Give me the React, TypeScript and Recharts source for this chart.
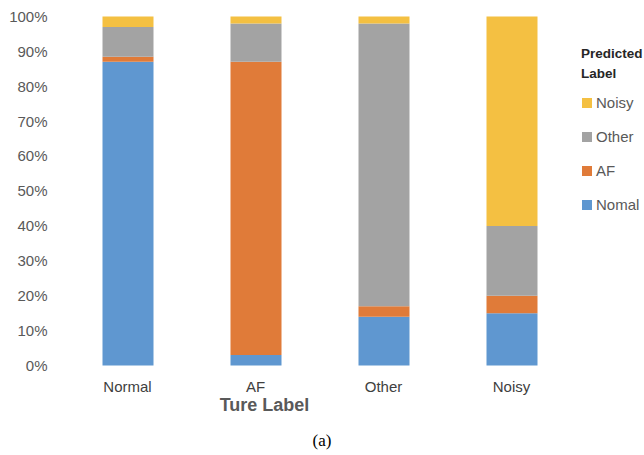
import React from 'react';
import { Bar, BarChart, XAxis, YAxis } from 'recharts';

// true label categories and predicted-label shares (%)
const categories = ['Normal', 'AF', 'Other', 'Noisy'];
const nomal = [87, 3, 14, 15];
const af = [1.5, 84, 3, 5];
const other = [8.5, 11, 81, 20];
const noisy = [3, 2, 2, 60];
const yTicks = [0, 10, 20, 30, 40, 50, 60, 70, 80, 90, 100];

const series = [
  { key: 'nomal', name: 'Nomal', color: '#5f97d0' },
  { key: 'af', name: 'AF', color: '#e07b39' },
  { key: 'other', name: 'Other', color: '#a3a3a3' },
  { key: 'noisy', name: 'Noisy', color: '#f4c042' },
];

const data = categories.map((c, i) => ({
  name: c,
  nomal: nomal[i],
  af: af[i],
  other: other[i],
  noisy: noisy[i],
}));

const font = '"Liberation Sans", Arial, sans-serif';

export default function App() {
  return (
    <div style={{ position: 'absolute', left: 0, top: 0, width: 644, height: 455, background: '#fff', fontFamily: font }}>
      <BarChart
        width={644}
        height={455}
        data={data}
        margin={{ top: 16.5, right: 68.5, bottom: 39.5, left: 0 }}
      >
        <XAxis
          dataKey="name"
          axisLine={false}
          tickLine={false}
          tickMargin={10}
          height={50}
          tick={{ fontSize: 15, fill: '#404040', fontFamily: font }}
          label={{
            value: 'Ture Label',
            position: 'insideBottom',
            dx: -55,
            style: { fontSize: 18, fontWeight: 'bold', fill: '#595959', fontFamily: font },
          }}
        />
        <YAxis
          domain={[0, 100]}
          ticks={yTicks}
          axisLine={false}
          tickLine={false}
          tickMargin={10}
          width={63.5}
          tickFormatter={(v) => `${v}%`}
          tick={{ fontSize: 15, fill: '#595959', fontFamily: font }}
        />
        {series.map((s) => (
          <Bar key={s.key} dataKey={s.key} name={s.name} stackId="a" fill={s.color} barSize={51} isAnimationActive={false} />
        ))}
      </BarChart>

      <div style={{ position: 'absolute', left: 581, top: 44, color: '#262626', fontSize: 13.5, fontWeight: 600, lineHeight: '20px' }}>
        Predicted
        <br />
        Label
      </div>
      {[...series].reverse().map((s, i) => (
        <div
          key={s.key}
          style={{ position: 'absolute', left: 582, top: 93 + i * 34, display: 'flex', alignItems: 'center', fontSize: 15, color: '#595959', lineHeight: '20px' }}
        >
          <span style={{ display: 'inline-block', width: 10, height: 10, background: s.color, marginRight: 4 }} />
          {s.name}
        </div>
      ))}

      <div style={{ position: 'absolute', left: 0, width: 644, top: 431, textAlign: 'center', fontFamily: '"Liberation Serif", "Times New Roman", serif', fontSize: 17, color: '#000' }}>
        (a)
      </div>
    </div>
  );
}
